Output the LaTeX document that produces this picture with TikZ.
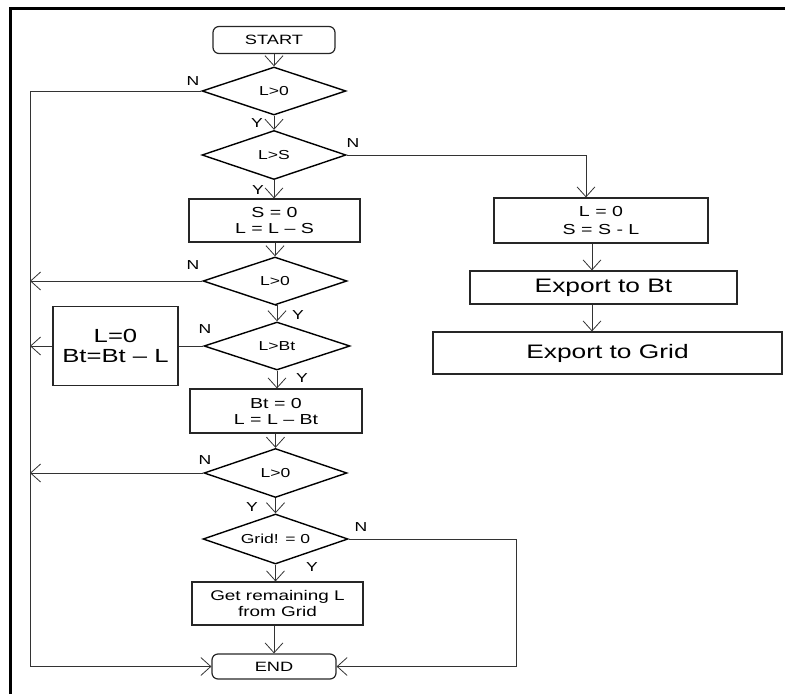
\documentclass[tikz,border=0pt]{standalone}
\usepackage{fontspec}
\setmainfont{Liberation Sans}[FakeStretch=1.35]
\usetikzlibrary{shapes.geometric,arrows.meta}
\tikzset{
  conn/.style={draw=black!80, line width=0.8pt},
  arr/.style={conn, -{Straight Barb[length=10pt,width=18pt]}},
  dia/.style={diamond, aspect=3, draw=black, line width=1.4pt, inner sep=0pt, font=\fontsize{13}{15}\selectfont},
  box/.style={rectangle, draw=black!85, line width=1.2pt, inner sep=0pt, align=center, font=\fontsize{14.5}{16}\selectfont},
  bigbox/.style={box, font=\fontsize{19.5}{21}\selectfont},
  term/.style={rectangle, rounded corners=6pt, draw=black!85, line width=1.2pt, inner sep=0pt, font=\fontsize{13.5}{15}\selectfont},
  lbl/.style={inner sep=0pt, font=\fontsize{13}{15}\selectfont},
}
\begin{document}
\begin{tikzpicture}[x=1pt,y=-1pt]
\useasboundingbox (0,0) rectangle (785,694);
\draw[line width=3pt] (10,694) -- (10,8) -- (785,8);

\node[term, minimum width=122pt, minimum height=27pt] (start) at (274,40) {START};
\node[dia, minimum width=144pt, minimum height=48pt] (d1) at (274,91) {L>0};
\node[dia, minimum width=144pt, minimum height=49pt] (d2) at (274,155) {L>S};
\node[box, minimum width=171pt, minimum height=43pt] (s0) at (274.5,220.5) {S = 0\\L = L -- S};
\node[dia, minimum width=144pt, minimum height=48pt] (d3) at (275,281) {L>0};
\node[dia, minimum width=146pt, minimum height=48pt] (d4) at (277,346) {L>Bt};
\node[box, minimum width=125pt, minimum height=79pt, font=\fontsize{19}{20}\selectfont] (lb) at (115.5,346) {L=0\\Bt=Bt -- L};
\node[box, minimum width=172pt, minimum height=44pt] (bt0) at (276,411) {Bt = 0\\L = L -- Bt};
\node[dia, minimum width=143pt, minimum height=49pt] (d5) at (275.5,473) {L>0};
\node[dia, minimum width=145pt, minimum height=50pt] (d6) at (275.5,539) {Grid! = 0};
\node[box, minimum width=171pt, minimum height=43pt, font=\fontsize{14}{15.5}\selectfont] (get) at (277.5,603.5) {Get remaining L\\from Grid};
\node[term, minimum width=124pt, minimum height=25pt] (end) at (274,666.5) {END};

\node[box, minimum width=214pt, minimum height=45pt, font=\fontsize{14.5}{18}\selectfont] (r1) at (601,220.5) {L = 0\\S = S - L};
\node[bigbox, minimum width=267pt, minimum height=33pt] (eb) at (603.5,287.5) {Export to Bt};
\node[bigbox, minimum width=349pt, minimum height=42pt] (eg) at (607.5,353) {Export to Grid};

\coordinate (lx) at (30,0);
\coordinate (rx) at (516,0);
\coordinate (bx) at (586,0);
\coordinate (cx) at (592,0);

% main column
\draw[arr] (start.south) -- (d1.north);
\draw[arr] (d1.south) -- (d2.north);
\draw[arr] (d2.south) -- (d2.south |- s0.north);
\draw[arr] (s0.south -| d3.north) -- (d3.north);
\draw[arr] (d3.south) -- (d3.south -| d4.north) -- (d4.north);
\draw[arr] (d4.south) -- (d4.south |- bt0.north);
\draw[arr] (bt0.south -| d5.north) -- (d5.north);
\draw[arr] (d5.south) -- (d6.north);
\draw[arr] (d6.south) -- (d6.south |- get.north);
\draw[arr] (get.south -| end.north) -- (end.north);

% left loop
\draw[arr] (d1.west) -- (d1.west -| lx) -- (end.west -| lx) -- (end.west);
\draw[arr] (d3.west) -- (d3.west -| lx);
\draw[conn] (d4.west) -- (lb.east);
\draw[arr] (lb.west) -- (lb.west -| lx);
\draw[arr] (d5.west) -- (d5.west -| lx);

% right loop
\draw[arr] (d6.east) -- (d6.east -| rx) -- (end.east -| rx) -- (end.east);

% right column
\draw[arr] (d2.east) -- (d2.east -| bx) -- (bx |- r1.north);
\draw[arr] (r1.south -| cx) -- (eb.north -| cx);
\draw[arr] (eb.south -| cx) -- (eg.north -| cx);

% labels
\node[lbl] (n1) at (193,81) {N};
\node[lbl] (y1) at (257,123) {Y};
\node[lbl] (n2) at (353,143) {N};
\node[lbl] (y2) at (258,190) {Y};
\node[lbl] (n3) at (193,265) {N};
\node[lbl] (y3) at (298,315) {Y};
\node[lbl] (n4) at (205,329) {N};
\node[lbl] (y4) at (302,378) {Y};
\node[lbl] (n5) at (205,460) {N};
\node[lbl] (y5) at (252,507) {Y};
\node[lbl] (n6) at (361,527) {N};
\node[lbl] (y6) at (312,567) {Y};
\end{tikzpicture}
\end{document}
